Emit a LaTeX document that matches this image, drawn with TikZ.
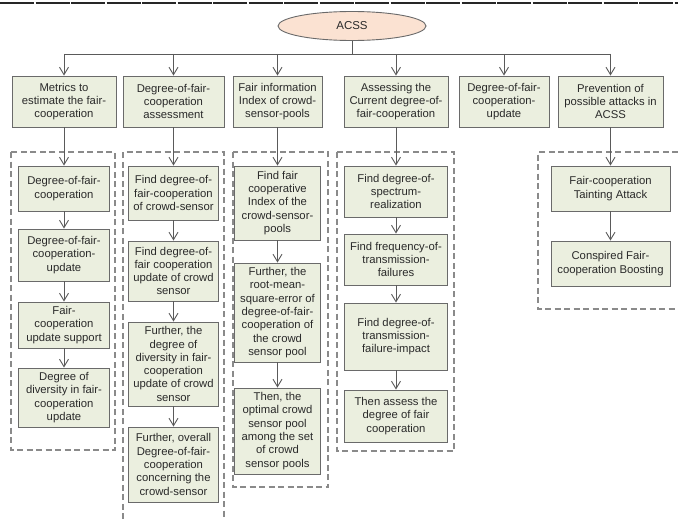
\documentclass[tikz,border=0pt]{standalone}
\usepackage{fontspec}
\setmainfont{Liberation Sans}
\usetikzlibrary{arrows.meta,shapes.geometric}
\definecolor{boxfill}{HTML}{EBEFDF}
\definecolor{boxline}{HTML}{6A6A6A}
\definecolor{ellfill}{HTML}{FBE2D2}
\definecolor{conn}{HTML}{5A5A5A}
\definecolor{dash}{HTML}{8A8A8A}
\definecolor{txt}{HTML}{2A2A2A}
\tikzset{
  bx/.style={draw=boxline, fill=boxfill, line width=0.9pt, align=center, inner sep=1pt,
    text=txt, font=\fontsize{11.3}{13.3}\selectfont},
  ell/.style={ellipse, draw=boxline, fill=ellfill, line width=0.9pt, text=txt,
    font=\fontsize{11.5}{13.3}\selectfont, minimum width=148pt, minimum height=29pt, inner sep=0pt},
  conline/.style={draw=conn, line width=0.9pt},
  arr/.style={draw=conn, line width=0.9pt, -{Straight Barb[length=7.5pt,width=9pt,line width=0.9pt]}},
  grp/.style={draw=dash, line width=1.1pt, dash pattern=on 6pt off 3.5pt},
}
\begin{document}
\begin{tikzpicture}[x=1pt,y=-1pt]
\useasboundingbox[fill=white] (0,0) rectangle (678,519);
% top rule
\draw[draw=black!85, line width=2.4pt, dash pattern=on 34pt off 1.5pt] (0,3) -- (678,3);

\node[ell] (acss) at (352,26) {ACSS};
\coordinate (bus) at (352,54);

% top level boxes
\node[bx, minimum width=104pt, minimum height=51pt] (b1) at (64,101.5) {Metrics to\\estimate the fair-\\cooperation};
\node[bx, minimum width=101pt, minimum height=51pt] (b2) at (173.5,101.5) {Degree-of-fair-\\cooperation\\assessment};
\node[bx, minimum width=89pt, minimum height=51pt] (b3) at (277.5,101.5) {Fair information\\Index of crowd-\\sensor-pools};
\node[bx, minimum width=104pt, minimum height=51pt] (b4) at (396,101.5) {Assessing the\\Current degree-of-\\fair-cooperation};
\node[bx, minimum width=90pt, minimum height=51pt] (b5) at (504,101.5) {Degree-of-fair-\\cooperation-\\update};
\node[bx, minimum width=105pt, minimum height=51pt] (b6) at (610.5,101.5) {Prevention of\\possible attacks in\\ACSS};

% group frames
\draw[grp] (11,152) rectangle (115,450);
\draw[grp] (123,519) -- (123,152) -- (224,152) -- (224,519);
\draw[grp] (233,152) rectangle (328,487);
\draw[grp] (337,152) rectangle (454,451);
\draw[grp] (678,152) -- (538,152) -- (538,309) -- (678,309);

% column 1
\node[bx, minimum width=91pt, minimum height=45pt] (c1a) at (64,188.5) {Degree-of-fair-\\cooperation};
\node[bx, minimum width=91pt, minimum height=52pt] (c1b) at (64,255) {Degree-of-fair-\\cooperation-\\update};
\node[bx, minimum width=91pt, minimum height=46pt] (c1c) at (64,325) {Fair-\\cooperation\\update support};
\node[bx, minimum width=91pt, minimum height=59pt] (c1d) at (64,397.5) {Degree of\\diversity in fair-\\cooperation\\update};

% column 2
\node[bx, minimum width=90pt, minimum height=54pt] (c2a) at (173.5,193) {Find degree-of-\\fair-cooperation\\of crowd-sensor};
\node[bx, minimum width=90pt, minimum height=60pt] (c2b) at (173.5,271) {Find degree-of-\\fair cooperation\\update of crowd\\sensor};
\node[bx, minimum width=90pt, minimum height=84pt] (c2c) at (173.5,364) {Further, the\\degree of\\diversity in fair-\\cooperation\\update of crowd\\sensor};
\node[bx, minimum width=90pt, minimum height=75pt] (c2d) at (173.5,464.5) {Further, overall\\Degree-of-fair-\\cooperation\\concerning the\\crowd-sensor};

% column 3
\node[bx, minimum width=86pt, minimum height=74pt] (c3a) at (277.5,203) {Find fair\\cooperative\\Index of the\\crowd-sensor-\\pools};
\node[bx, minimum width=86pt, minimum height=99pt] (c3b) at (277.5,312.5) {Further, the\\root-mean-\\square-error of\\degree-of-fair-\\cooperation of\\the crowd\\sensor pool};
\node[bx, minimum width=86pt, minimum height=86pt] (c3c) at (277.5,431) {Then, the\\optimal crowd\\sensor pool\\among the set\\of crowd\\sensor pools};

% column 4
\node[bx, minimum width=103pt, minimum height=51pt] (c4a) at (396,191.5) {Find degree-of-\\spectrum-\\realization};
\node[bx, minimum width=103pt, minimum height=51pt] (c4b) at (396,259.5) {Find frequency-of-\\transmission-\\failures};
\node[bx, minimum width=103pt, minimum height=67pt] (c4c) at (396,336.5) {Find degree-of-\\transmission-\\failure-impact};
\node[bx, minimum width=103pt, minimum height=52pt] (c4d) at (396,416) {Then assess the\\degree of fair\\cooperation};

% column 6
\node[bx, minimum width=119pt, minimum height=45pt] (c6a) at (610.5,188.5) {Fair-cooperation\\Tainting Attack};
\node[bx, minimum width=119pt, minimum height=45pt] (c6b) at (610.5,263.5) {Conspired Fair-\\cooperation Boosting};

% connectors
\draw[conline] (acss) -- (bus);
\draw[conline] (b1.north |- bus) -- (b6.north |- bus);
\foreach \b in {b1,b2,b3,b4,b5,b6} { \draw[arr] (\b.north |- bus) -- (\b.north); }

\draw[arr] (b1) -- (c1a);
\draw[arr] (c1a) -- (c1b);
\draw[arr] (c1b) -- (c1c);
\draw[arr] (c1c) -- (c1d);

\draw[arr] (b2) -- (c2a);
\draw[arr] (c2a) -- (c2b);
\draw[arr] (c2b) -- (c2c);
\draw[arr] (c2c) -- (c2d);

\draw[arr] (b3) -- (c3a);
\draw[arr] (c3a) -- (c3b);
\draw[arr] (c3b) -- (c3c);

\draw[arr] (b4) -- (c4a);
\draw[arr] (c4a) -- (c4b);
\draw[arr] (c4b) -- (c4c);
\draw[arr] (c4c) -- (c4d);

\draw[arr] (b6) -- (c6a);
\draw[arr] (c6a) -- (c6b);
\end{tikzpicture}
\end{document}
